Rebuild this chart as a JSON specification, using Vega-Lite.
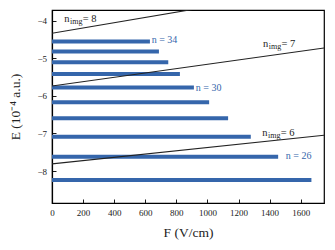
{
  "$schema": "https://vega.github.io/schema/vega-lite/v6.json",
  "width": 272,
  "height": 193,
  "autosize": {"type": "none"},
  "padding": {"left": 52, "top": 10, "right": 11, "bottom": 47},
  "config": {
    "view": {"stroke": "#000", "strokeWidth": 1.2},
    "font": "Liberation Serif",
    "axis": {
      "grid": false,
      "domainColor": "#000",
      "domainWidth": 1.2,
      "tickColor": "#000",
      "tickSize": -4,
      "tickWidth": 0.9,
      "labelFont": "Liberation Serif",
      "labelFontSize": 9,
      "labelColor": "#222",
      "labelPadding": 9.5,
      "labelFlush": false,
      "labelOverlap": false,
      "titleFont": "Liberation Serif",
      "titleFontSize": 13.5,
      "titleFontWeight": "normal",
      "titleColor": "#222"
    }
  },
  "datasets": {
    "bars": [
      {"n": 34, "F": 630, "E": -4.56},
      {"n": 33, "F": 688, "E": -4.82},
      {"n": 32, "F": 748, "E": -5.11},
      {"n": 31, "F": 823, "E": -5.42},
      {"n": 30, "F": 913, "E": -5.78},
      {"n": 29, "F": 1011, "E": -6.17},
      {"n": 28, "F": 1133, "E": -6.60},
      {"n": 27, "F": 1279, "E": -7.09},
      {"n": 26, "F": 1455, "E": -7.62},
      {"n": 25, "F": 1669, "E": -8.24}
    ],
    "img": [
      {"nimg": 8, "F": 0, "E": -4.34, "F1": 1750, "E1": -3.11},
      {"nimg": 7, "F": 0, "E": -5.74, "F1": 1750, "E1": -4.73},
      {"nimg": 6, "F": 0, "E": -7.81, "F1": 1750, "E1": -7.05}
    ],
    "nlabels": [
      {"F": 641, "E": -4.53, "label": "n = 34"},
      {"F": 925, "E": -5.79, "label": "n = 30"},
      {"F": 1504, "E": -7.61, "label": "n = 26"}
    ],
    "imglabels": [
      {"F": 79, "E": -3.95, "n": "n", "sub": "img", "eq": "= 8"},
      {"F": 1358, "E": -4.63, "n": "n", "sub": "img", "eq": "= 7"},
      {"F": 1352, "E": -7.0, "n": "n", "sub": "img", "eq": "= 6"}
    ]
  },
  "encoding": {
    "x": {
      "field": "F",
      "type": "quantitative",
      "scale": {"domain": [0, 1750], "nice": false, "zero": false},
      "axis": {"values": [0, 200, 400, 600, 800, 1000, 1200, 1400, 1600], "format": "d", "labelOverlap": false, "title": "F (V/cm)", "titlePadding": 8}
    },
    "y": {
      "field": "E",
      "type": "quantitative",
      "scale": {"domain": [-8.85, -3.72], "nice": false, "zero": false},
      "axis": {"values": [-8, -7, -6, -5, -4], "format": "d", "labelOverlap": false, "title": "E (10⁻⁴ a.u.)", "titlePadding": 14}
    }
  },
  "layer": [
    {
      "data": {"name": "bars"},
      "mark": {"type": "rule", "strokeWidth": 4, "color": "#3566ab"},
      "encoding": {"x2": {"datum": 0}}
    },
    {
      "data": {"name": "img"},
      "mark": {"type": "rule", "strokeWidth": 1.1, "color": "#222", "clip": true},
      "encoding": {"x2": {"field": "F1"}, "y2": {"field": "E1"}}
    },
    {
      "data": {"name": "nlabels"},
      "mark": {"type": "text", "align": "left", "baseline": "middle", "fontSize": 10, "color": "#3566ab", "font": "Liberation Serif"},
      "encoding": {"text": {"field": "label"}}
    },
    {
      "data": {"name": "imglabels"},
      "mark": {"type": "text", "align": "left", "baseline": "middle", "fontSize": 10.5, "color": "#222", "font": "Liberation Serif"},
      "encoding": {"text": {"field": "n"}}
    },
    {
      "data": {"name": "imglabels"},
      "mark": {"type": "text", "align": "left", "baseline": "middle", "fontSize": 8, "color": "#222", "font": "Liberation Serif", "dx": 5.8, "dy": 3},
      "encoding": {"text": {"field": "sub"}}
    },
    {
      "data": {"name": "imglabels"},
      "mark": {"type": "text", "align": "left", "baseline": "middle", "fontSize": 10.5, "color": "#222", "font": "Liberation Serif", "dx": 18.5},
      "encoding": {"text": {"field": "eq"}}
    }
  ]
}
